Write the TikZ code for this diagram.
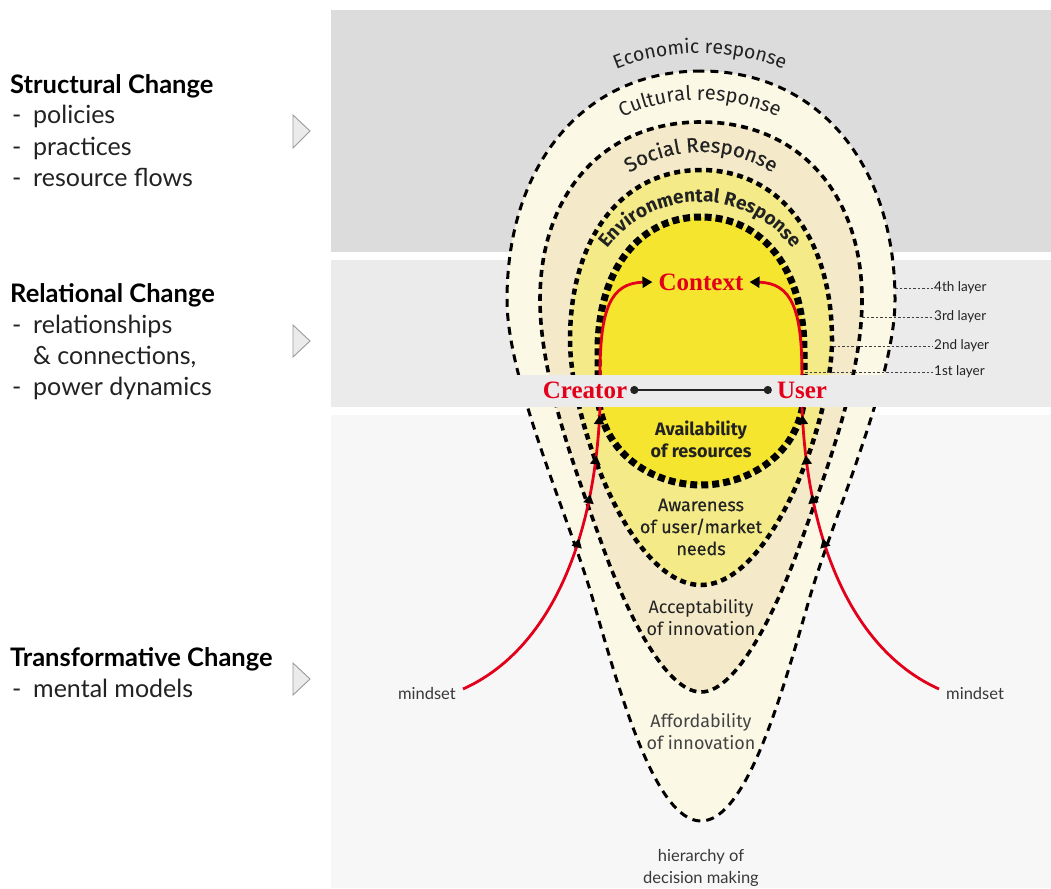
\documentclass[tikz,border=0pt]{standalone}
\usepackage{fontspec}
\setmainfont{Lato}
\newfontfamily\fira{Fira Sans}
\newfontfamily\firamed[FakeBold=0.4]{Fira Sans}
\newfontfamily\lserif{Liberation Serif}
\usetikzlibrary{arrows.meta,decorations.text,decorations.markings}
\definecolor{panA}{HTML}{DCDCDC}
\definecolor{panB}{HTML}{EBEBEB}
\definecolor{panC}{HTML}{F7F7F7}
\definecolor{cfour}{HTML}{FBF8E6}
\definecolor{cthree}{HTML}{F4EAC9}
\definecolor{ctwo}{HTML}{F4EB88}
\definecolor{cone}{HTML}{F6E52F}
\definecolor{redc}{HTML}{E2001A}
\definecolor{ink}{HTML}{222222}
\definecolor{triF}{HTML}{EBEBEB}
\definecolor{triD}{HTML}{9A9A9A}
\begin{document}
\begin{tikzpicture}[x=1pt,y=-1pt,
  layfour/.style={fill=cfour, draw=black, line width=3pt, dash pattern=on 8pt off 6pt},
  laythree/.style={fill=cthree, draw=black, line width=3.6pt, dash pattern=on 7pt off 5pt},
  laytwo/.style={fill=ctwo, draw=black, line width=4.5pt, dash pattern=on 6pt off 4.5pt},
  layone/.style={fill=cone, draw=black, line width=7pt, dash pattern=on 7pt off 4pt},
  redln/.style={draw=redc, line width=2.8pt},
  tipk/.style={-{Triangle[length=10pt,width=11pt,color=black]}},
  mk/.style={postaction={decorate}, decoration={markings,
    mark=at position 0.595 with {\arrow{Triangle[length=9pt,width=10pt,color=black]}},
    mark=at position 0.733 with {\arrow{Triangle[length=9pt,width=10pt,color=black]}},
    mark=at position 0.853 with {\arrow{Triangle[length=9pt,width=10pt,color=black]}},
    mark=at position 0.975 with {\arrow{Triangle[length=9pt,width=10pt,color=black]}}}},
  leader/.style={draw=black!75, line width=0.8pt, dash pattern=on 2.5pt off 2pt},
  lefttxt/.style={font=\fontsize{25}{31}\selectfont, text=ink, inner sep=0, anchor=base west},
  lefthead/.style={font=\bfseries\fontsize{25.5}{31}\selectfont, text=black, inner sep=0, anchor=base west},
  laylbl/.style={font=\fontsize{13.5}{13.5}\selectfont, text=ink, inner sep=1pt, anchor=west},
  smalllbl/.style={font=\fontsize{16.5}{22}\selectfont, text=ink!90, inner sep=0, align=center},
  inlbl/.style={font=\fira\fontsize{18}{22}\selectfont, text=ink, inner sep=0, align=center},
  redlbl/.style={font=\lserif\bfseries\fontsize{25}{25}\selectfont, text=redc, inner sep=0},
  link/.style={draw=ink, line width=2.5pt, {Circle[length=8pt]}-{Circle[length=8pt]}},
  tri/.style={draw=triD, fill=triF, line width=0.9pt, line join=miter}
]
\useasboundingbox (0,0) rectangle (1051,888);
\fill[white] (0,0) rectangle (1051,888);
% panels
\fill[panA] (331,10) rectangle (1051,252);
\fill[panB] (331,260) rectangle (1051,407);
\fill[panC] (331,415) rectangle (1051,888);

% layers
\path[layfour] (701,71) .. controls (585,71) and (507,163) .. (507,300)
  .. controls (507,380) and (570,520) .. (593,600)
  .. controls (619,690) and (655,821) .. (701,821)
  .. controls (747,821) and (783,690) .. (809,600)
  .. controls (832,520) and (895,380) .. (895,300)
  .. controls (895,163) and (817,71) .. (701,71) -- cycle;
\path[laythree] (701,122) .. controls (604,122) and (540,193) .. (540,300)
  .. controls (540,380) and (579,480) .. (604,550)
  .. controls (626,610) and (665,692) .. (701,692)
  .. controls (737,692) and (776,610) .. (798,550)
  .. controls (823,480) and (862,380) .. (862,300)
  .. controls (862,193) and (798,122) .. (701,122) -- cycle;
\path[laytwo] (701,170) .. controls (622,170) and (570,238) .. (570,340)
  .. controls (570,420) and (630,585) .. (701,585)
  .. controls (772,585) and (832,420) .. (832,340)
  .. controls (832,238) and (780,170) .. (701,170) -- cycle;
\path[layone] (701,217) .. controls (639,217) and (598,270) .. (598,350)
  -- (598,390) .. controls (598,450) and (650,485) .. (701,485)
  .. controls (752,485) and (804,450) .. (804,390)
  -- (804,350) .. controls (804,270) and (763,217) .. (701,217) -- cycle;

% curved texts
\path[decorate, decoration={text along path, text align=center, text={|\fira\fontsize{19.5}{19.5}\selectfont\color{ink}|Economic response}}]
  plot[domain=0:90, samples=60] ({700+221*cos(135-\x)}, {274-221*sin(135-\x)});
\path[decorate, decoration={text along path, text align=center, text={|\fira\fontsize{20}{20}\selectfont\color{ink}|Cultural response}}]
  plot[domain=0:100, samples=60] ({700+183*cos(140-\x)}, {283-183*sin(140-\x)});
\path[decorate, decoration={text along path, text align=center, text={|\firamed\fontsize{20.5}{20.5}\selectfont\color{ink}|Social Response}}]
  plot[domain=0:120, samples=60] ({701+133*cos(150-\x)}, {285-133*sin(150-\x)});
\path[decorate, decoration={text along path, text align=center, text={|\fira\bfseries\fontsize{19}{19}\selectfont\color{ink}|Environmental Response}}]
  plot[domain=0:140, samples=70] ({700+115*cos(160-\x)}, {317-115*sin(160-\x)});

% inner labels
\node[inlbl, font=\fira\bfseries\fontsize{18}{22}\selectfont] (avail) at (701,439) {Availability\\of resources};
\node[inlbl, font=\firamed\fontsize{18}{22}\selectfont] (aware) at (701,527) {Awareness\\of user/market\\needs};
\node[inlbl] (accept) at (701,618) {Acceptability\\of innovation};
\node[inlbl, text=ink!85] (afford) at (701,732) {Affordability\\of innovation};
\node[smalllbl] (hier) at (701,868) {hierarchy of\\decision making};

% strip
\fill[panB] (331,375) rectangle (1051,407);

% layer labels and leaders
\node[laylbl] (l4) at (933,288) {4th layer};
\node[laylbl] (l3) at (933,317) {3rd layer};
\node[laylbl] (l2) at (933,346) {2nd layer};
\node[laylbl] (l1) at (933,372) {1st layer};
\coordinate (p4) at (895,288);
\coordinate (p3) at (862,317);
\coordinate (p2) at (833,346);
\coordinate (p1) at (805,372);
\draw[leader] (p4) -- (l4.west);
\draw[leader] (p3) -- (l3.west);
\draw[leader] (p2) -- (l2.west);
\draw[leader] (p1) -- (l1.west);

% creator / user / context
\node[redlbl] (creator) at (585,390) {Creator};
\node[redlbl] (user) at (802,390) {User};
\node[redlbl] (context) at (701,282) {Context};
\draw[link] ([xshift=3pt]creator.east) -- ([xshift=-5pt]user.west);

\coordinate (cr1) at (600,375);
\coordinate (us1) at (802,375);
\coordinate (cr2) at (600,407);
\coordinate (us2) at (802,407);
\coordinate (ms1) at (463,689);
\coordinate (ms2) at (939,689);
\draw[redln, tipk] (cr1) .. controls (600,310) and (610,283) .. ([xshift=-6pt]context.west);
\draw[redln, tipk] (us1) .. controls (802,310) and (792,283) .. ([xshift=6pt]context.east);
\draw[redln, mk] (ms1) .. controls (550,650) and (595,540) .. (cr2);
\draw[redln, mk] (ms2) .. controls (852,650) and (807,540) .. (us2);

\node[smalllbl, anchor=east] (mindL) at (456,693) {mindset};
\node[smalllbl, anchor=west] (mindR) at (946,693) {mindset};

% left column
\node[lefthead] (sch) at (10,94) {Structural Change};
\node[lefttxt] (sc1) at (12,124) {\makebox[21pt][l]{-}policies};
\node[lefttxt] (sc2) at (12,155) {\makebox[21pt][l]{-}practices};
\node[lefttxt] (sc3) at (12,186) {\makebox[21pt][l]{-}resource flows};
\node[lefthead] (rch) at (10,302) {Relational Change};
\node[lefttxt] (rc1) at (12,333) {\makebox[21pt][l]{-}relationships};
\node[lefttxt] (rc2) at (33,364) {\&\ connections,};
\node[lefttxt] (rc3) at (12,395) {\makebox[21pt][l]{-}power dynamics};
\node[lefthead] (tch) at (10,666) {Transformative Change};
\node[lefttxt] (tc1) at (12,697) {\makebox[21pt][l]{-}mental models};

\draw[tri] (293,115) -- (310,131) -- (293,148) -- cycle;
\draw[tri] (293,325) -- (310,341) -- (293,357) -- cycle;
\draw[tri] (293,663) -- (310,679) -- (293,695) -- cycle;
\end{tikzpicture}
\end{document}
